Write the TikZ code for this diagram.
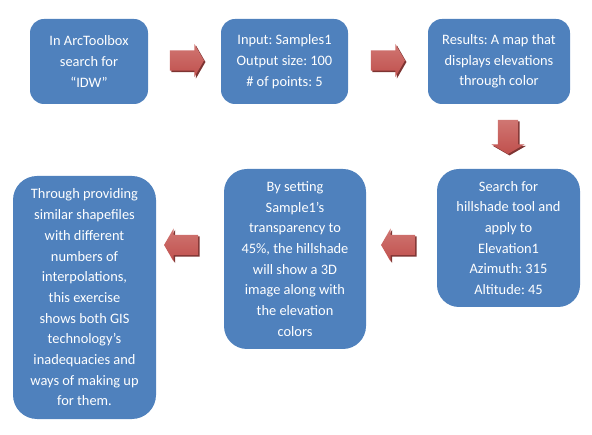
\documentclass[tikz,border=0pt]{standalone}
\usepackage{fontspec}
\setmainfont{Carlito}
\frenchspacing
\usetikzlibrary{shapes.arrows,shadows}
\definecolor{boxblue}{HTML}{4F81BD}
\definecolor{arrred}{HTML}{C0504D}
\definecolor{arrlight}{HTML}{D07672}
\definecolor{arrdark}{HTML}{7E3432}
\tikzset{
  stepbox/.style={fill=boxblue, text=white, align=center, inner sep=0pt,
    font=\fontsize{14.4}{20.7}\selectfont},
  blockarrow/.style={single arrow, minimum height=34pt,
    inner sep=10pt,
    single arrow head extend=6.5pt, single arrow head indent=0pt,
    single arrow tip angle=120,
    top color=arrlight, bottom color=arrred, draw=none,
    general shadow={fill=arrdark, shadow xshift=1.5pt, shadow yshift=-1.5pt}},
}
\begin{document}
\begin{tikzpicture}[x=1pt,y=1pt]
\useasboundingbox (0,0) rectangle (592,434);
\node[stepbox, minimum width=118pt, minimum height=85pt, rounded corners=14pt] (b1) at (89,372.5)
  {In ArcToolbox\\search for\\“IDW”};
\node[stepbox, minimum width=127pt, minimum height=85pt, rounded corners=14pt] (b2) at (284.5,372.5)
  {Input: Samples1\\Output size: 100\\\# of points: 5};
\node[stepbox, minimum width=142pt, minimum height=85pt, rounded corners=14pt] (b3) at (499,372.5)
  {Results: A map that\\displays elevations\\through color};
\node[stepbox, minimum width=143pt, minimum height=138pt, rounded corners=22pt] (b4) at (508.5,196)
  {Search for\\hillshade tool and\\apply to\\Elevation1\\Azimuth: 315\\Altitude: 45};
\node[stepbox, minimum width=142pt, minimum height=180pt, rounded corners=23pt] (b5) at (295,175)
  {By setting\\Sample1’s\\transparency to\\45\%, the hillshade\\will show a 3D\\image along with\\the elevation\\colors};
\node[stepbox, minimum width=143pt, minimum height=243pt, rounded corners=24pt] (b6) at (84.5,136.5)
  {Through providing\\similar shapefiles\\with different\\numbers of\\interpolations,\\this exercise\\shows both GIS\\technology’s\\inadequacies and\\ways of making up\\for them.};
\node[blockarrow] (a1) at (184,373.5) {};
\node[blockarrow] (a2) at (385,373.5) {};
\node[blockarrow, shape border rotate=270] (a3) at (508,300) {};
\node[blockarrow, shape border rotate=180] (a4) at (401,189) {};
\node[blockarrow, shape border rotate=180] (a5) at (184,189) {};
\end{tikzpicture}
\end{document}
